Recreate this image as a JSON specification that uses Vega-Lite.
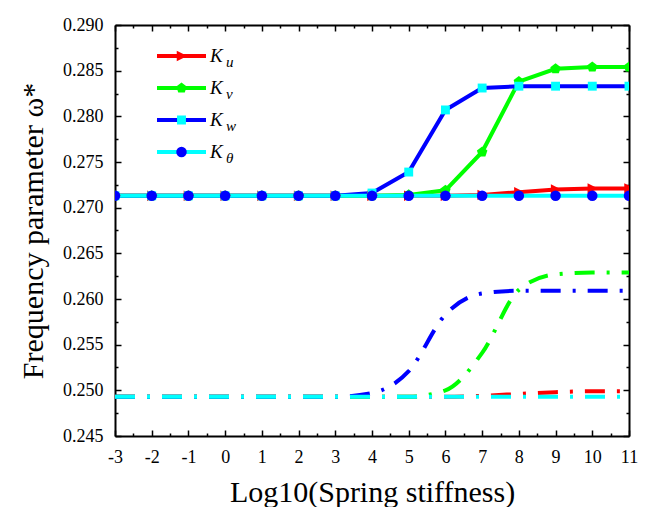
{
  "$schema": "https://vega.github.io/schema/vega-lite/v6.json",
  "width": 514,
  "height": 411,
  "autosize": "none",
  "padding": {"left": 115, "top": 25, "right": 17, "bottom": 71},
  "background": "white",
  "config": {"view": {"stroke": null}, "font": "Liberation Serif"},
  "data": {
    "values": [
      {"logk": -3, "freq": 0.2713, "K": "u", "set": "A"},
      {"logk": -2, "freq": 0.2713, "K": "u", "set": "A"},
      {"logk": -1, "freq": 0.2713, "K": "u", "set": "A"},
      {"logk": 0, "freq": 0.2713, "K": "u", "set": "A"},
      {"logk": 1, "freq": 0.2713, "K": "u", "set": "A"},
      {"logk": 2, "freq": 0.2713, "K": "u", "set": "A"},
      {"logk": 3, "freq": 0.2713, "K": "u", "set": "A"},
      {"logk": 4, "freq": 0.2713, "K": "u", "set": "A"},
      {"logk": 5, "freq": 0.2713, "K": "u", "set": "A"},
      {"logk": 6, "freq": 0.2713, "K": "u", "set": "A"},
      {"logk": 7, "freq": 0.2714, "K": "u", "set": "A"},
      {"logk": 8, "freq": 0.2717, "K": "u", "set": "A"},
      {"logk": 9, "freq": 0.2720, "K": "u", "set": "A"},
      {"logk": 10, "freq": 0.2721, "K": "u", "set": "A"},
      {"logk": 11, "freq": 0.2721, "K": "u", "set": "A"},
      {"logk": -3, "freq": 0.2713, "K": "v", "set": "A"},
      {"logk": -2, "freq": 0.2713, "K": "v", "set": "A"},
      {"logk": -1, "freq": 0.2713, "K": "v", "set": "A"},
      {"logk": 0, "freq": 0.2713, "K": "v", "set": "A"},
      {"logk": 1, "freq": 0.2713, "K": "v", "set": "A"},
      {"logk": 2, "freq": 0.2713, "K": "v", "set": "A"},
      {"logk": 3, "freq": 0.2713, "K": "v", "set": "A"},
      {"logk": 4, "freq": 0.2713, "K": "v", "set": "A"},
      {"logk": 5, "freq": 0.2714, "K": "v", "set": "A"},
      {"logk": 6, "freq": 0.2719, "K": "v", "set": "A"},
      {"logk": 7, "freq": 0.2761, "K": "v", "set": "A"},
      {"logk": 8, "freq": 0.2838, "K": "v", "set": "A"},
      {"logk": 9, "freq": 0.2852, "K": "v", "set": "A"},
      {"logk": 10, "freq": 0.2854, "K": "v", "set": "A"},
      {"logk": 11, "freq": 0.2854, "K": "v", "set": "A"},
      {"logk": -3, "freq": 0.2713, "K": "w", "set": "A"},
      {"logk": -2, "freq": 0.2713, "K": "w", "set": "A"},
      {"logk": -1, "freq": 0.2713, "K": "w", "set": "A"},
      {"logk": 0, "freq": 0.2713, "K": "w", "set": "A"},
      {"logk": 1, "freq": 0.2713, "K": "w", "set": "A"},
      {"logk": 2, "freq": 0.2713, "K": "w", "set": "A"},
      {"logk": 3, "freq": 0.2713, "K": "w", "set": "A"},
      {"logk": 4, "freq": 0.2716, "K": "w", "set": "A"},
      {"logk": 5, "freq": 0.2739, "K": "w", "set": "A"},
      {"logk": 6, "freq": 0.2807, "K": "w", "set": "A"},
      {"logk": 7, "freq": 0.2831, "K": "w", "set": "A"},
      {"logk": 8, "freq": 0.2833, "K": "w", "set": "A"},
      {"logk": 9, "freq": 0.2833, "K": "w", "set": "A"},
      {"logk": 10, "freq": 0.2833, "K": "w", "set": "A"},
      {"logk": 11, "freq": 0.2833, "K": "w", "set": "A"},
      {"logk": -3, "freq": 0.2713, "K": "θ", "set": "A"},
      {"logk": -2, "freq": 0.2713, "K": "θ", "set": "A"},
      {"logk": -1, "freq": 0.2713, "K": "θ", "set": "A"},
      {"logk": 0, "freq": 0.2713, "K": "θ", "set": "A"},
      {"logk": 1, "freq": 0.2713, "K": "θ", "set": "A"},
      {"logk": 2, "freq": 0.2713, "K": "θ", "set": "A"},
      {"logk": 3, "freq": 0.2713, "K": "θ", "set": "A"},
      {"logk": 4, "freq": 0.2713, "K": "θ", "set": "A"},
      {"logk": 5, "freq": 0.2713, "K": "θ", "set": "A"},
      {"logk": 6, "freq": 0.2713, "K": "θ", "set": "A"},
      {"logk": 7, "freq": 0.2713, "K": "θ", "set": "A"},
      {"logk": 8, "freq": 0.2713, "K": "θ", "set": "A"},
      {"logk": 9, "freq": 0.2713, "K": "θ", "set": "A"},
      {"logk": 10, "freq": 0.2713, "K": "θ", "set": "A"},
      {"logk": 11, "freq": 0.2713, "K": "θ", "set": "A"},
      {"logk": -3, "freq": 0.2493, "K": "u", "set": "B"},
      {"logk": -2, "freq": 0.2493, "K": "u", "set": "B"},
      {"logk": -1, "freq": 0.2493, "K": "u", "set": "B"},
      {"logk": 0, "freq": 0.2493, "K": "u", "set": "B"},
      {"logk": 1, "freq": 0.2493, "K": "u", "set": "B"},
      {"logk": 2, "freq": 0.2493, "K": "u", "set": "B"},
      {"logk": 3, "freq": 0.2493, "K": "u", "set": "B"},
      {"logk": 4, "freq": 0.2493, "K": "u", "set": "B"},
      {"logk": 5, "freq": 0.2493, "K": "u", "set": "B"},
      {"logk": 6, "freq": 0.2493, "K": "u", "set": "B"},
      {"logk": 7, "freq": 0.2494, "K": "u", "set": "B"},
      {"logk": 8, "freq": 0.2496, "K": "u", "set": "B"},
      {"logk": 9, "freq": 0.2498, "K": "u", "set": "B"},
      {"logk": 10, "freq": 0.2499, "K": "u", "set": "B"},
      {"logk": 11, "freq": 0.2499, "K": "u", "set": "B"},
      {"logk": -3, "freq": 0.2493, "K": "v", "set": "B"},
      {"logk": -2, "freq": 0.2493, "K": "v", "set": "B"},
      {"logk": -1, "freq": 0.2493, "K": "v", "set": "B"},
      {"logk": 0, "freq": 0.2493, "K": "v", "set": "B"},
      {"logk": 1, "freq": 0.2493, "K": "v", "set": "B"},
      {"logk": 2, "freq": 0.2493, "K": "v", "set": "B"},
      {"logk": 3, "freq": 0.2493, "K": "v", "set": "B"},
      {"logk": 4, "freq": 0.2493, "K": "v", "set": "B"},
      {"logk": 5, "freq": 0.2493, "K": "v", "set": "B"},
      {"logk": 6, "freq": 0.2500, "K": "v", "set": "B"},
      {"logk": 7, "freq": 0.2541, "K": "v", "set": "B"},
      {"logk": 8, "freq": 0.2610, "K": "v", "set": "B"},
      {"logk": 9, "freq": 0.2627, "K": "v", "set": "B"},
      {"logk": 10, "freq": 0.2629, "K": "v", "set": "B"},
      {"logk": 11, "freq": 0.2629, "K": "v", "set": "B"},
      {"logk": -3, "freq": 0.2493, "K": "w", "set": "B"},
      {"logk": -2, "freq": 0.2493, "K": "w", "set": "B"},
      {"logk": -1, "freq": 0.2493, "K": "w", "set": "B"},
      {"logk": 0, "freq": 0.2493, "K": "w", "set": "B"},
      {"logk": 1, "freq": 0.2493, "K": "w", "set": "B"},
      {"logk": 2, "freq": 0.2493, "K": "w", "set": "B"},
      {"logk": 3, "freq": 0.2493, "K": "w", "set": "B"},
      {"logk": 4, "freq": 0.2497, "K": "w", "set": "B"},
      {"logk": 5, "freq": 0.2521, "K": "w", "set": "B"},
      {"logk": 6, "freq": 0.2583, "K": "w", "set": "B"},
      {"logk": 7, "freq": 0.2606, "K": "w", "set": "B"},
      {"logk": 8, "freq": 0.2609, "K": "w", "set": "B"},
      {"logk": 9, "freq": 0.2609, "K": "w", "set": "B"},
      {"logk": 10, "freq": 0.2609, "K": "w", "set": "B"},
      {"logk": 11, "freq": 0.2609, "K": "w", "set": "B"},
      {"logk": -3, "freq": 0.2493, "K": "θ", "set": "B"},
      {"logk": -2, "freq": 0.2493, "K": "θ", "set": "B"},
      {"logk": -1, "freq": 0.2493, "K": "θ", "set": "B"},
      {"logk": 0, "freq": 0.2493, "K": "θ", "set": "B"},
      {"logk": 1, "freq": 0.2493, "K": "θ", "set": "B"},
      {"logk": 2, "freq": 0.2493, "K": "θ", "set": "B"},
      {"logk": 3, "freq": 0.2493, "K": "θ", "set": "B"},
      {"logk": 4, "freq": 0.2493, "K": "θ", "set": "B"},
      {"logk": 5, "freq": 0.2493, "K": "θ", "set": "B"},
      {"logk": 6, "freq": 0.2493, "K": "θ", "set": "B"},
      {"logk": 7, "freq": 0.2493, "K": "θ", "set": "B"},
      {"logk": 8, "freq": 0.2493, "K": "θ", "set": "B"},
      {"logk": 9, "freq": 0.2493, "K": "θ", "set": "B"},
      {"logk": 10, "freq": 0.2493, "K": "θ", "set": "B"},
      {"logk": 11, "freq": 0.2493, "K": "θ", "set": "B"}
    ]
  },
  "resolve": {"axis": {"x": "independent", "y": "independent"}},
  "layer": [
    {
      "transform": [{"filter": "datum.set === 'A'"}],
      "mark": {"type": "line", "strokeWidth": 4, "clip": true},
      "encoding": {
        "x": {
          "field": "logk", "type": "quantitative",
          "scale": {"domain": [-3, 11], "nice": false, "zero": false},
          "axis": {
            "orient": "bottom",
            "values": [-3, -2.5, -2, -1.5, -1, -0.5, 0, 0.5, 1, 1.5, 2, 2.5, 3, 3.5, 4, 4.5, 5, 5.5, 6, 6.5, 7, 7.5, 8, 8.5, 9, 9.5, 10, 10.5, 11],
            "labelExpr": "datum.value % 1 === 0 ? '' + datum.value : ''",
            "tickSize": {"condition": {"test": "datum.value % 1 !== 0", "value": -3}, "value": -6},
            "tickColor": "black", "tickWidth": 1.5,
            "domainColor": "black", "domainWidth": 2,
            "grid": false,
            "labelFont": "Liberation Serif", "labelFontSize": 18, "labelColor": "black",
            "labelPadding": 18, "labelOverlap": false, "labelFlush": false, "labelBound": false,
            "title": "Log10(Spring stiffness)",
            "titleFont": "Liberation Serif", "titleFontSize": 30, "titleFontWeight": "normal", "titleColor": "black",
            "titlePadding": 8
          }
        },
        "y": {
          "field": "freq", "type": "quantitative",
          "scale": {"domain": [0.245, 0.29], "nice": false, "zero": false},
          "axis": {
            "orient": "left",
            "values": [0.245, 0.2475, 0.25, 0.2525, 0.255, 0.2575, 0.26, 0.2625, 0.265, 0.2675, 0.27, 0.2725, 0.275, 0.2775, 0.28, 0.2825, 0.285, 0.2875, 0.29],
            "labelExpr": "round(datum.value * 400) % 2 === 0 ? format(datum.value, '.3f') : ''",
            "tickSize": {"condition": {"test": "round(datum.value * 400) % 2 !== 0", "value": -3}, "value": -6},
            "tickColor": "black", "tickWidth": 1.5,
            "domainColor": "black", "domainWidth": 2,
            "grid": false,
            "labelFont": "Liberation Serif", "labelFontSize": 18, "labelColor": "black",
            "labelPadding": 18, "labelOverlap": false, "labelFlush": false, "labelBound": false,
            "title": "Frequency parameter ω*",
            "titleFont": "Liberation Serif", "titleFontSize": 30, "titleFontWeight": "normal", "titleColor": "black",
            "titlePadding": 14
          }
        },
        "color": {
          "field": "K", "type": "nominal",
          "scale": {"domain": ["u", "v", "w", "θ"], "range": ["#ff0000", "#00ff00", "#0000ff", "#00ffff"]},
          "legend": {
            "orient": "none", "legendX": 40, "legendY": 15, "title": null, "direction": "vertical",
            "symbolType": "stroke", "symbolSize": 2401, "symbolStrokeWidth": 4,
            "labelFont": "Liberation Serif", "labelFontStyle": "italic", "labelFontSize": 15, "labelColor": "black",
            "labelOffset": 18, "clipHeight": 32, "rowPadding": 0, "padding": 0,
            "encode": {"labels": {"update": {"dy": {"value": 6}}}}
          }
        }
      }
    },
    {
      "transform": [{"filter": "datum.set === 'A'"}],
      "mark": {"type": "point", "filled": true, "opacity": 1, "size": 110, "strokeWidth": 0, "clip": true},
      "encoding": {
        "x": {
          "field": "logk", "type": "quantitative",
          "axis": {
            "orient": "top",
            "values": [-3, -2.5, -2, -1.5, -1, -0.5, 0, 0.5, 1, 1.5, 2, 2.5, 3, 3.5, 4, 4.5, 5, 5.5, 6, 6.5, 7, 7.5, 8, 8.5, 9, 9.5, 10, 10.5, 11],
            "labels": false,
            "tickSize": {"condition": {"test": "datum.value % 1 !== 0", "value": -3}, "value": -6},
            "tickColor": "black", "tickWidth": 1.5,
            "domainColor": "black", "domainWidth": 2,
            "grid": false, "title": null
          }
        },
        "y": {
          "field": "freq", "type": "quantitative",
          "axis": {
            "orient": "right",
            "values": [0.245, 0.2475, 0.25, 0.2525, 0.255, 0.2575, 0.26, 0.2625, 0.265, 0.2675, 0.27, 0.2725, 0.275, 0.2775, 0.28, 0.2825, 0.285, 0.2875, 0.29],
            "labels": false,
            "tickSize": {"condition": {"test": "round(datum.value * 400) % 2 !== 0", "value": -3}, "value": -6},
            "tickColor": "black", "tickWidth": 1.5,
            "domainColor": "black", "domainWidth": 2,
            "grid": false, "title": null
          }
        },
        "fill": {
          "field": "K", "type": "nominal",
          "scale": {"range": ["#ff0000", "#00ff00", "#00ffff", "#0000ff"]},
          "legend": {
            "orient": "none", "legendX": 40, "legendY": 15, "title": null, "direction": "vertical",
            "symbolSize": 110, "symbolStrokeWidth": 0, "symbolOffset": 17,
            "labelExpr": "'K'",
            "labelFont": "Liberation Serif", "labelFontStyle": "italic", "labelFontSize": 19, "labelColor": "black",
            "labelOffset": 19, "clipHeight": 32, "rowPadding": 0, "padding": 0
          }
        },
        "shape": {
          "field": "K", "type": "nominal",
          "scale": {"range": ["M-0.9,-1L1.1,0L-0.9,1Z", "M0,-1.05L1,-0.3L0.62,0.85L-0.62,0.85L-1,-0.3Z", "M-0.85,-0.85H0.85V0.85H-0.85Z", "circle"]},
          "legend": {
            "orient": "none", "legendX": 40, "legendY": 15, "title": null, "direction": "vertical",
            "symbolSize": 110, "symbolStrokeWidth": 0, "symbolOffset": 17,
            "labelExpr": "'K'",
            "labelFont": "Liberation Serif", "labelFontStyle": "italic", "labelFontSize": 19, "labelColor": "black",
            "labelOffset": 19, "clipHeight": 32, "rowPadding": 0, "padding": 0
          }
        }
      }
    },
    {
      "transform": [{"filter": "datum.set === 'B'"}],
      "mark": {"type": "line", "strokeWidth": 4, "strokeDash": [20, 12, 3, 12], "strokeCap": "butt", "interpolate": "monotone", "clip": true},
      "encoding": {
        "x": {"field": "logk", "type": "quantitative", "axis": null},
        "y": {"field": "freq", "type": "quantitative", "axis": null},
        "color": {"field": "K", "type": "nominal"}
      }
    }
  ]
}
